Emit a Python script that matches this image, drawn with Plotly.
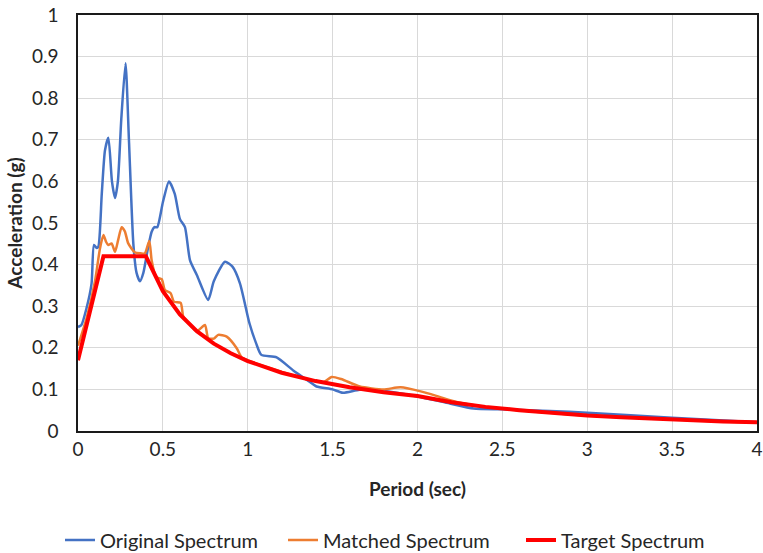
import plotly.graph_objects as go

# Original spectrum (blue)
orig_T = [0, 0.02, 0.05, 0.08, 0.094, 0.11, 0.12, 0.14, 0.159, 0.179, 0.2, 0.218, 0.235, 0.255, 0.28,
          0.3, 0.326, 0.345, 0.365, 0.385, 0.41, 0.434, 0.45, 0.467, 0.5, 0.536, 0.57, 0.6, 0.63,
          0.66, 0.7, 0.767, 0.8, 0.866, 0.91, 0.954, 1.01, 1.05, 1.08, 1.17, 1.27, 1.366, 1.405,
          1.5, 1.56, 1.66, 1.8, 2.0, 2.19, 2.33, 2.5, 2.78, 3.0, 3.5, 4.0]
orig_A = [0.25, 0.255, 0.295, 0.355, 0.447, 0.44, 0.443, 0.57, 0.675, 0.705, 0.6, 0.56, 0.6, 0.75, 0.884,
          0.7, 0.45, 0.38, 0.36, 0.38, 0.435, 0.479, 0.49, 0.49, 0.55, 0.6, 0.57, 0.51, 0.49,
          0.41, 0.375, 0.315, 0.36, 0.407, 0.395, 0.355, 0.259, 0.21, 0.183, 0.177, 0.145, 0.118, 0.107,
          0.1, 0.092, 0.099, 0.096, 0.083, 0.066, 0.054, 0.052, 0.048, 0.044, 0.032, 0.021]

# Matched spectrum (orange)
match_T = [0, 0.05, 0.1, 0.13, 0.15, 0.165, 0.178, 0.198, 0.218, 0.237, 0.257, 0.276, 0.296, 0.336,
           0.37, 0.394, 0.42, 0.434, 0.46, 0.493, 0.512, 0.546, 0.565, 0.605, 0.62, 0.65, 0.7,
           0.748, 0.767, 0.8, 0.826, 0.876, 0.935, 0.964, 1.0, 1.1, 1.2, 1.3, 1.4, 1.45, 1.494,
           1.55, 1.66, 1.8, 1.9, 2.03, 2.13, 2.23, 2.4, 2.6, 2.8, 3.0, 3.2, 3.5, 3.8, 4.0]
match_A = [0.205, 0.27, 0.36, 0.44, 0.471, 0.455, 0.447, 0.451, 0.431, 0.46, 0.49, 0.48, 0.451, 0.429,
           0.427, 0.427, 0.457, 0.41, 0.37, 0.365, 0.339, 0.331, 0.311, 0.308, 0.275, 0.26, 0.24,
           0.255, 0.223, 0.222, 0.231, 0.227, 0.199, 0.177, 0.17, 0.155, 0.142, 0.13, 0.12, 0.118, 0.13,
           0.125, 0.107, 0.1, 0.105, 0.094, 0.082, 0.07, 0.058, 0.05, 0.043, 0.037, 0.033, 0.028, 0.023, 0.02]

# Target spectrum (red)
target_T = [0, 0.15, 0.4, 0.5, 0.6, 0.7, 0.8, 0.9, 1.0, 1.2, 1.4, 1.6, 1.8, 2.0, 2.2, 2.4, 2.6,
            2.8, 3.0, 3.2, 3.4, 3.6, 3.8, 4.0]
target_A = [0.17, 0.42, 0.42, 0.336, 0.28, 0.24, 0.21, 0.187, 0.168, 0.14, 0.12, 0.105, 0.093, 0.084,
            0.069, 0.058, 0.05, 0.043, 0.037, 0.033, 0.029, 0.026, 0.023, 0.021]

x_ticks = [0, 0.5, 1, 1.5, 2, 2.5, 3, 3.5, 4]
x_labels = ["0", "0.5", "1", "1.5", "2", "2.5", "3", "3.5", "4"]
y_ticks = [0, 0.1, 0.2, 0.3, 0.4, 0.5, 0.6, 0.7, 0.8, 0.9, 1]
y_labels = ["0", "0.1", "0.2", "0.3", "0.4", "0.5", "0.6", "0.7", "0.8", "0.9", "1"]

FONT = "Lato"
TXT = "#262626"

fig = go.Figure()
fig.add_trace(go.Scatter(x=orig_T, y=orig_A, mode="lines", name="Original Spectrum", legendwidth=178,
                         line=dict(color="#4472C4", width=2.5, shape="spline", smoothing=0.6)))
fig.add_trace(go.Scatter(x=match_T, y=match_A, mode="lines", name="Matched Spectrum", legendwidth=193,
                         line=dict(color="#ED7D31", width=2.5, shape="spline", smoothing=0.6)))
fig.add_trace(go.Scatter(x=target_T, y=target_A, mode="lines", name="Target Spectrum",
                         line=dict(color="#FF0000", width=4)))

fig.update_layout(
    width=763, height=553,
    margin=dict(l=78, r=6, t=15, b=122),
    paper_bgcolor="white", plot_bgcolor="white",
    font=dict(family=FONT, color=TXT, size=19),
    legend=dict(orientation="h", xref="container", yref="container",
                x=60 / 763, xanchor="left", y=1 - 540 / 553, yanchor="middle",
                font=dict(size=20, family=FONT, color=TXT), bgcolor="rgba(0,0,0,0)"),
    xaxis=dict(range=[0, 4], tickvals=x_ticks, ticktext=x_labels, showgrid=True, automargin=False,
               gridcolor="#d9d9d9", gridwidth=1.3, showline=True, linecolor="#1a1a1a", linewidth=1.5,
               mirror=True, zeroline=False, ticks="", ticklen=0, tickfont=dict(size=19),
               title=dict(text="<b>Period (sec)</b>", font=dict(size=19), standoff=24)),
    yaxis=dict(range=[0, 1], tickvals=y_ticks, ticktext=y_labels, showgrid=True, automargin=False,
               gridcolor="#d9d9d9", gridwidth=1.3, showline=True, linecolor="#1a1a1a", linewidth=1.5,
               mirror=True, zeroline=False, ticks="", ticklen=0, tickfont=dict(size=19), ticklabelstandoff=14,
               title=dict(text="<b>Acceleration (g)</b>", font=dict(size=19), standoff=4)),
)

fig.write_html("out.html")
